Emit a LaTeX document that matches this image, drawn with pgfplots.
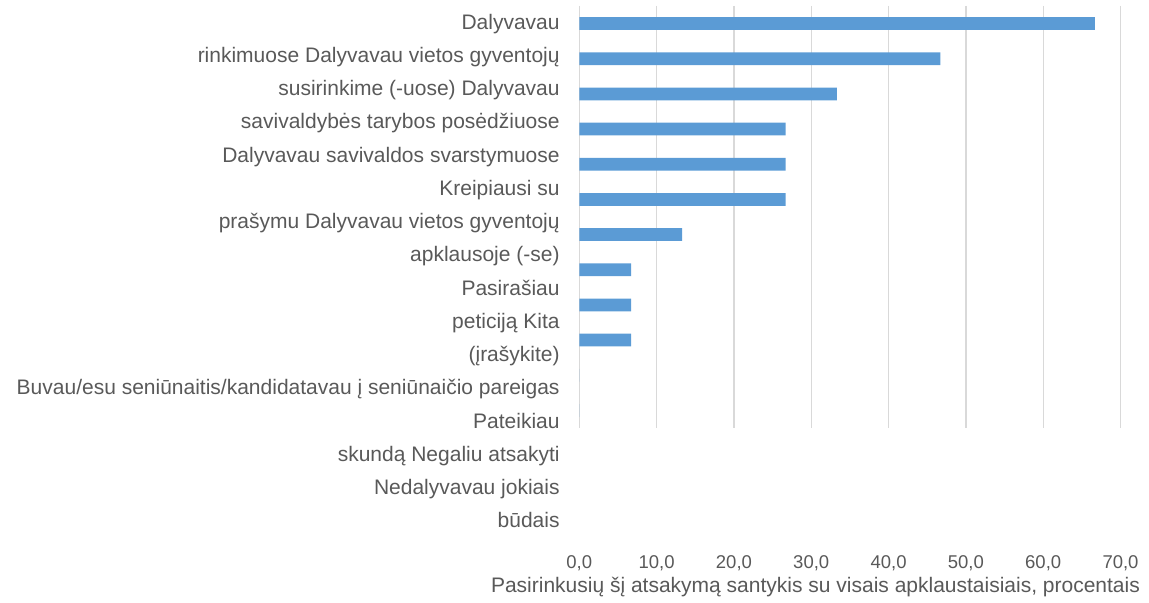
\documentclass[border=0pt]{standalone}
\usepackage{fontspec}
\setmainfont{Liberation Sans}
\usepackage{pgfplots}
\pgfplotsset{compat=1.18}
\definecolor{barblue}{HTML}{5B9BD5}
\definecolor{txtgray}{HTML}{595959}
\definecolor{gridgray}{HTML}{D9D9D9}

\begin{document}
\begin{tikzpicture}
\useasboundingbox (0,0) rectangle (574.5pt,301.5pt);
\begin{axis}[
  at={(289.65pt,87.5pt)}, anchor=south west,
  scale only axis, width=270.6pt, height=211pt,
  xbar, bar width=6.35pt,
  xmin=0, xmax=70, ymin=0.5, ymax=12.5,
  y dir=reverse,
  clip=false,
  axis line style={draw=none},
  major tick style={draw=none},
  ytick=\empty,
  xtick={0,10,...,70},
  xmajorgrids,
  grid style={gridgray, line width=0.65pt},
  /pgf/number format/.cd, fixed, fixed zerofill, precision=1, use comma, assume math mode=true,
  /pgfplots/.cd,
  xticklabel style={font=\fontsize{9.25}{11}\selectfont, text=txtgray, anchor=base, yshift=-70pt},
  xlabel={Pasirinkusių šį atsakymą santykis su visais apklaustaisiais, procentais},
  xlabel style={font=\fontsize{10.5}{12}\selectfont, text=txtgray, at={(axis description cs:0.4364,0)}, anchor=base, yshift=-82pt},
]
\addplot[fill=barblue, draw=none] coordinates {
  (66.7,1) (46.7,2) (33.3,3) (26.7,4) (26.7,5) (26.7,6)
  (13.3,7) (6.7,8) (6.7,9) (6.7,10) (0,11) (0,12)
};
\tikzset{ylab/.style={anchor=base east, inner sep=0pt, xshift=-9.65pt, yshift=-3.75pt, text=txtgray, font=\fontsize{10.5}{12}\selectfont}}
\node[ylab] at (axis cs:0,0.946) {Dalyvavau};
\node[ylab] at (axis cs:0,1.891) {rinkimuose Dalyvavau vietos gyventojų};
\node[ylab] at (axis cs:0,2.837) {susirinkime (-uose) Dalyvavau};
\node[ylab] at (axis cs:0,3.782) {savivaldybės tarybos posėdžiuose};
\node[ylab] at (axis cs:0,4.728) {Dalyvavau savivaldos svarstymuose};
\node[ylab] at (axis cs:0,5.673) {Kreipiausi su};
\node[ylab] at (axis cs:0,6.618) {prašymu Dalyvavau vietos gyventojų};
\node[ylab] at (axis cs:0,7.564) {apklausoje (-se)};
\node[ylab] at (axis cs:0,8.509) {Pasirašiau};
\node[ylab] at (axis cs:0,9.455) {peticiją Kita};
\node[ylab] at (axis cs:0,10.400) {(įrašykite)};
\node[ylab] at (axis cs:0,11.345) {Buvau/esu seniūnaitis/kandidatavau į seniūnaičio pareigas};
\node[ylab] at (axis cs:0,12.291) {Pateikiau};
\node[ylab] at (axis cs:0,13.236) {skundą Negaliu atsakyti};
\node[ylab] at (axis cs:0,14.182) {Nedalyvavau jokiais};
\node[ylab] at (axis cs:0,15.127) {būdais};
\end{axis}
\end{tikzpicture}
\end{document}
